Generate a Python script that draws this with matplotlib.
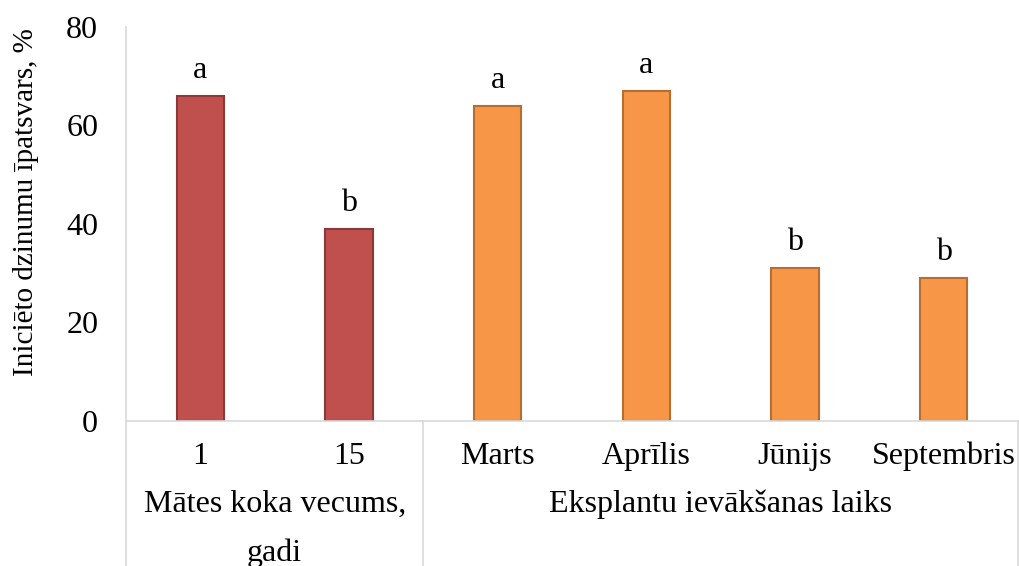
import matplotlib.pyplot as plt
import numpy as np

plt.rcParams['font.family'] = ['Liberation Serif', 'DejaVu Serif']

categories = ['1', '15', 'Marts', 'Aprīlis', 'Jūnijs', 'Septembris']
values = [66, 39, 64, 67, 31, 29]
letters = ['a', 'b', 'a', 'a', 'b', 'b']
groups = ['Mātes koka vecums,\ngadi', 'Eksplantu ievākšanas laiks']
group_sizes = [2, 4]

fills = ['#C0504D'] * 2 + ['#F79646'] * 4
edges = ['#8C3836'] * 2 + ['#B66D31'] * 4

fs = 23

fig = plt.figure(figsize=(10.19, 5.66), dpi=100)
ax = fig.add_axes([126 / 1019, 1 - 421 / 566, 892 / 1019, 394 / 566])

x = np.arange(len(categories))
ax.bar(x, values, width=0.32, color=fills, edgecolor=edges, linewidth=1.5, zorder=2)
for xi, v, l in zip(x, values, letters):
    ax.annotate(l, (xi, v), xytext=(0, 8), textcoords='offset points',
                ha='center', va='bottom', fontsize=fs)

ax.set_xlim(-0.5, len(categories) - 0.5)
ax.set_ylim(0, 80)
ax.set_yticks([0, 20, 40, 60, 80])
ax.tick_params(axis='y', length=0, labelsize=fs, pad=20)
ax.tick_params(axis='x', length=0, labelsize=fs, pad=15)
ax.set_xticks(x)
ax.set_xticklabels(categories)
ax.set_ylabel('Iniciēto dzinumu īpatsvars, %', fontsize=21)
ax.yaxis.set_label_coords(-0.097, 0.556)

for s in ['top', 'right']:
    ax.spines[s].set_visible(False)
ax.spines['left'].set_color('#D9D9D9')
ax.spines['bottom'].set_color('#D9D9D9')
ax.spines['left'].set_linewidth(1.2)
ax.spines['bottom'].set_linewidth(1.2)

# multi-level category axis: separators and group labels
tr = ax.get_xaxis_transform()
bottom = -0.37
start = -0.5
ax.plot([start, start], [0, bottom], transform=tr, color='#D9D9D9', lw=1.2, clip_on=False)
for g, n in zip(groups, group_sizes):
    end = start + n
    ax.plot([end, end], [0, bottom], transform=tr, color='#D9D9D9', lw=1.2, clip_on=False)
    ax.text((start + end) / 2, -0.175, g, transform=tr, ha='center', va='top',
            multialignment='center', fontsize=fs, linespacing=1.85)
    start = end

plt.savefig('out.png', dpi=100)
